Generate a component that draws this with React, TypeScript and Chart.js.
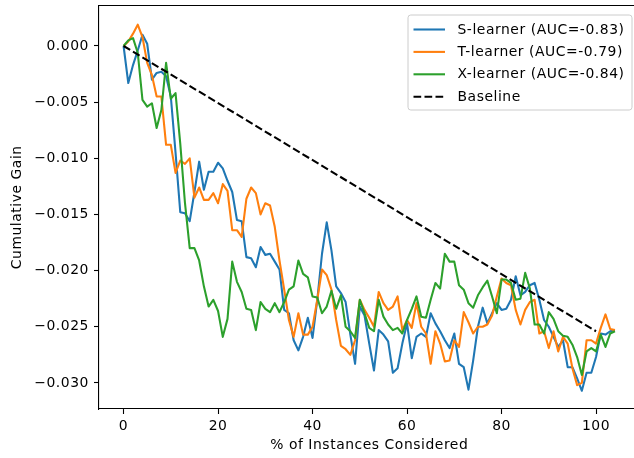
import React, { useEffect, useRef } from 'react';
import { Chart, registerables } from 'chart.js';

Chart.register(...registerables);

// % of instances considered (one point per percent)
const PCT: number[] = Array.from({ length: 105 }, (_, i) => i);

const S_LEARNER: number[] = [
  0, -0.0033, -0.0017, -0.0004, 0.0010, 0.0002, -0.0030, -0.0024, -0.0023, -0.0027,
  -0.0045, -0.0095, -0.0148, -0.0149, -0.0156, -0.0130, -0.0103, -0.0128, -0.0112, -0.0112,
  -0.0104, -0.0109, -0.0120, -0.0130, -0.0155, -0.0156, -0.0188, -0.0189, -0.0197, -0.0179,
  -0.0186, -0.0185, -0.0192, -0.0199, -0.0235, -0.0238, -0.0262, -0.0271, -0.0259, -0.0242,
  -0.0260, -0.0226, -0.0185, -0.0157, -0.0182, -0.0214, -0.0220, -0.0228, -0.0257, -0.0283,
  -0.0232, -0.0240, -0.0265, -0.0289, -0.0253, -0.0257, -0.0263, -0.0291, -0.0287, -0.0265,
  -0.0247, -0.0278, -0.0259, -0.0256, -0.0259, -0.0238, -0.0247, -0.0254, -0.0262, -0.0269,
  -0.0256, -0.0283, -0.0286, -0.0306, -0.0280, -0.0250, -0.0233, -0.0247, -0.0238, -0.0229,
  -0.0235, -0.0234, -0.0226, -0.0205, -0.0222, -0.0219, -0.0213, -0.0211, -0.0226, -0.0244,
  -0.0250, -0.0259, -0.0268, -0.0262, -0.0286, -0.0286, -0.0296, -0.0307, -0.0291, -0.0291,
  -0.0277, -0.0256, -0.0257, -0.0254, -0.0253,
];

const T_LEARNER: number[] = [
  0, 0.0004, 0.0011, 0.0019, 0.0008, -0.0015, -0.0026, -0.0045, -0.0045, -0.0088,
  -0.0088, -0.0113, -0.0102, -0.0105, -0.0100, -0.0135, -0.0126, -0.0137, -0.0137, -0.0131,
  -0.0140, -0.0123, -0.0129, -0.0164, -0.0164, -0.0170, -0.0136, -0.0126, -0.0131, -0.0150,
  -0.0140, -0.0142, -0.0161, -0.0191, -0.0217, -0.0244, -0.0259, -0.0238, -0.0257, -0.0257,
  -0.0250, -0.0226, -0.0199, -0.0204, -0.0217, -0.0244, -0.0267, -0.0270, -0.0275, -0.0262,
  -0.0226, -0.0235, -0.0242, -0.0250, -0.0219, -0.0229, -0.0235, -0.0232, -0.0223, -0.0253,
  -0.0244, -0.0251, -0.0229, -0.0250, -0.0256, -0.0283, -0.0254, -0.0265, -0.0281, -0.0280,
  -0.0262, -0.0268, -0.0237, -0.0246, -0.0256, -0.0250, -0.0250, -0.0248, -0.0240, -0.0223,
  -0.0207, -0.0211, -0.0213, -0.0235, -0.0248, -0.0235, -0.0228, -0.0226, -0.0256, -0.0254,
  -0.0269, -0.0254, -0.0272, -0.0259, -0.0265, -0.0287, -0.0302, -0.0300, -0.0262, -0.0262,
  -0.0265, -0.0251, -0.0239, -0.0252, -0.0253,
];

const X_LEARNER: number[] = [
  0, 0.0005, 0.0007, -0.0006, -0.0048, -0.0054, -0.0051, -0.0073, -0.0057, -0.0015,
  -0.0047, -0.0042, -0.0087, -0.0140, -0.0180, -0.0180, -0.0191, -0.0214, -0.0232, -0.0226,
  -0.0236, -0.0259, -0.0243, -0.0192, -0.0210, -0.0219, -0.0234, -0.0235, -0.0253, -0.0228,
  -0.0234, -0.0237, -0.0229, -0.0237, -0.0228, -0.0217, -0.0214, -0.0191, -0.0203, -0.0206,
  -0.0223, -0.0224, -0.0238, -0.0232, -0.0218, -0.0234, -0.0222, -0.0250, -0.0254, -0.0260,
  -0.0226, -0.0238, -0.0251, -0.0254, -0.0226, -0.0241, -0.0248, -0.0253, -0.0251, -0.0256,
  -0.0244, -0.0234, -0.0223, -0.0241, -0.0242, -0.0226, -0.0211, -0.0216, -0.0185, -0.0192,
  -0.0192, -0.0213, -0.0217, -0.0229, -0.0233, -0.0222, -0.0215, -0.0209, -0.0223, -0.0238,
  -0.0208, -0.0208, -0.0211, -0.0226, -0.0225, -0.0202, -0.0216, -0.0248, -0.0248, -0.0256,
  -0.0237, -0.0243, -0.0254, -0.0258, -0.0259, -0.0266, -0.0277, -0.0293, -0.0272, -0.0269,
  -0.0272, -0.0257, -0.0268, -0.0256, -0.0254,
];

const BASELINE_X: number[] = [0, 100];
const BASELINE_Y: number[] = [0, -0.0254];

const SERIES_LABELS: string[] = [
  'S-learner (AUC=-0.83)',
  'T-learner (AUC=-0.79)',
  'X-learner (AUC=-0.84)',
  'Baseline',
];

const X_TICKS: number[] = [0, 20, 40, 60, 80, 100];
const Y_TICKS: number[] = [0, -0.005, -0.01, -0.015, -0.02, -0.025, -0.03];

const X_TITLE = '% of Instances Considered';
const Y_TITLE = 'Cumulative Gain';

const FONT_FAMILY = '"DejaVu Sans", "Liberation Sans", sans-serif';
const FONT_SIZE = 13.9;
const LETTER_SPACING = '0.55px';

const COLORS = ['#1f77b4', '#ff7f0e', '#2ca02c', '#000000'];

const toPoints = (xs: number[], ys: number[]) => ys.map((y, i) => ({ x: xs[i], y }));

const spacingPlugin = {
  id: 'mplSpacing',
  beforeInit(chart: any) {
    chart.ctx.letterSpacing = LETTER_SPACING;
  },
  beforeUpdate(chart: any) {
    chart.ctx.letterSpacing = LETTER_SPACING;
  },
  beforeDraw(chart: any) {
    chart.ctx.letterSpacing = LETTER_SPACING;
  },
};

const framePlugin = {
  id: 'mplFrame',
  afterDraw(chart: any) {
    const { ctx, chartArea } = chart;
    ctx.save();
    ctx.strokeStyle = '#000';
    ctx.lineWidth = 1.1;
    ctx.beginPath();
    ctx.moveTo(chartArea.left, chartArea.top);
    ctx.lineTo(chartArea.right, chartArea.top);
    ctx.lineTo(chartArea.right, chartArea.bottom);
    ctx.stroke();
    ctx.restore();
  },
};

const legendPlugin = {
  id: 'mplLegend',
  afterDraw(chart: any) {
    const { ctx, chartArea } = chart;
    const w = 224;
    const h = 95;
    const x0 = chartArea.right - 7.5 - w;
    const y0 = chartArea.top + 9.5;
    ctx.save();
    ctx.beginPath();
    if (ctx.roundRect) ctx.roundRect(x0, y0, w, h, 2.8);
    else ctx.rect(x0, y0, w, h);
    ctx.fillStyle = 'rgba(255,255,255,0.8)';
    ctx.fill();
    ctx.strokeStyle = '#cccccc';
    ctx.lineWidth = 1;
    ctx.stroke();
    chart.data.datasets.forEach((ds: any, i: number) => {
      const y = y0 + 14.5 + i * 22.4;
      ctx.beginPath();
      ctx.strokeStyle = ds.borderColor;
      ctx.lineWidth = 2.08;
      ctx.setLineDash(ds.borderDash || []);
      ctx.lineCap = 'butt';
      ctx.moveTo(x0 + 5.5, y);
      ctx.lineTo(x0 + 37, y);
      ctx.stroke();
      ctx.setLineDash([]);
      ctx.fillStyle = '#000';
      ctx.font = `${FONT_SIZE}px ${FONT_FAMILY}`;
      ctx.letterSpacing = LETTER_SPACING;
      ctx.textAlign = 'left';
      ctx.textBaseline = 'middle';
      ctx.fillText(ds.label, x0 + 49.5, y + 0.5);
    });
    ctx.restore();
  },
};

export default function App() {
  const ref = useRef<HTMLCanvasElement>(null);

  useEffect(() => {
    if (!ref.current) return;
    const font = { family: FONT_FAMILY, size: FONT_SIZE };
    const lineDs = (label: string, ys: number[], color: string, order: number) => ({
      label,
      data: toPoints(PCT, ys),
      borderColor: color,
      backgroundColor: color,
      borderWidth: 2.08,
      pointRadius: 0,
      tension: 0,
      fill: false,
      borderJoinStyle: 'round',
      order,
    });
    const chart = new Chart(ref.current, {
      type: 'line',
      data: {
        datasets: [
          lineDs(SERIES_LABELS[0], S_LEARNER, COLORS[0], 4),
          lineDs(SERIES_LABELS[1], T_LEARNER, COLORS[1], 3),
          lineDs(SERIES_LABELS[2], X_LEARNER, COLORS[2], 2),
          {
            label: SERIES_LABELS[3],
            data: toPoints(BASELINE_X, BASELINE_Y),
            borderColor: COLORS[3],
            backgroundColor: COLORS[3],
            borderWidth: 2.08,
            borderDash: [7.7, 3.3],
            pointRadius: 0,
            tension: 0,
            fill: false,
            order: 1,
          },
        ] as any,
      },
      options: {
        animation: false,
        responsive: false,
        devicePixelRatio: 1,
        layout: { padding: { top: 5.5, right: 5.5, left: 0, bottom: 0 } },
        plugins: {
          legend: { display: false },
          tooltip: { enabled: false },
        },
        scales: {
          x: {
            type: 'linear',
            min: -5.2,
            max: 109.2,
            afterBuildTicks: (scale: any) => {
              scale.ticks = X_TICKS.map((v) => ({ value: v }));
            },
            afterFit: (scale: any) => {
              scale.height = 49;
              scale.paddingLeft = 0;
              scale.paddingRight = 0;
            },
            grid: {
              drawOnChartArea: false,
              drawTicks: true,
              tickLength: 5,
              tickWidth: 1.1,
              tickColor: '#000',
            },
            border: { display: true, color: '#000', width: 1.1 },
            ticks: {
              color: '#000',
              font,
              padding: 4,
              maxRotation: 0,
              autoSkip: false,
              callback: (v: any) => String(v),
            },
            title: {
              display: true,
              text: X_TITLE,
              color: '#000',
              font,
              padding: { top: 0, bottom: 4.7 },
            },
          },
          y: {
            type: 'linear',
            min: -0.032324,
            max: 0.003606,
            afterBuildTicks: (scale: any) => {
              scale.ticks = Y_TICKS.map((v) => ({ value: v }));
            },
            afterFit: (scale: any) => {
              scale.width = 99;
              scale.paddingTop = 0;
              scale.paddingBottom = 0;
            },
            grid: {
              drawOnChartArea: false,
              drawTicks: true,
              tickLength: 5,
              tickWidth: 1.1,
              tickColor: '#000',
            },
            border: { display: true, color: '#000', width: 1.1 },
            ticks: {
              color: '#000',
              font,
              padding: 5,
              autoSkip: false,
              callback: (v: any) => {
                const s = Number(v).toFixed(3);
                return s.startsWith('-') ? '\u2212' + s.slice(1) : s;
              },
            },
            title: {
              display: true,
              text: Y_TITLE,
              color: '#000',
              font,
              padding: { top: 8.7, bottom: 0 },
            },
          },
        },
      } as any,
      plugins: [spacingPlugin, framePlugin, legendPlugin],
    });
    return () => chart.destroy();
  }, []);

  return (
    <div
      style={{
        position: 'fixed',
        left: 0,
        top: 0,
        width: 634,
        height: 458,
        overflow: 'hidden',
        background: '#fff',
      }}
    >
      <canvas ref={ref} width={645} height={458} style={{ display: 'block', width: 645, height: 458 }} />
    </div>
  );
}
